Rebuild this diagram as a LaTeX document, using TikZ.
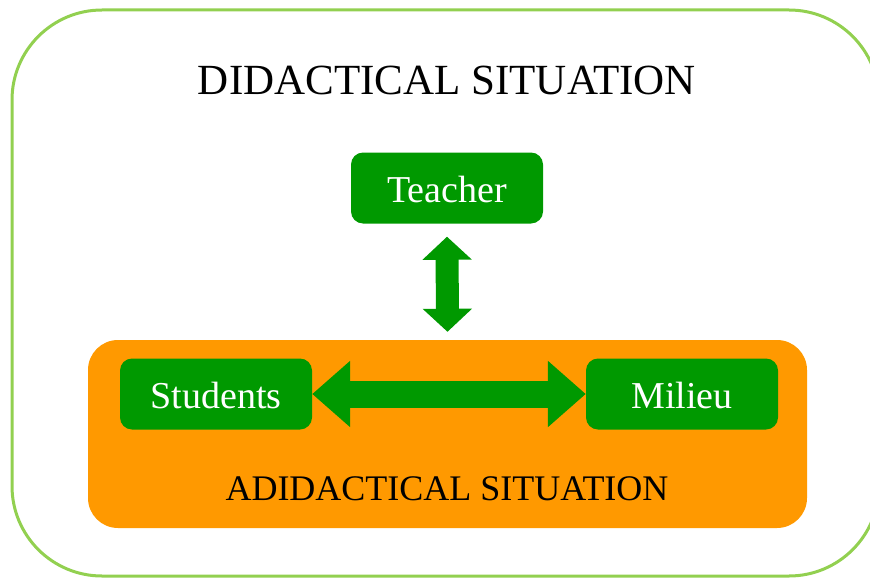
\documentclass[tikz,border=0pt]{standalone}
\usepackage{fontspec}
\setmainfont{Liberation Serif}
\usetikzlibrary{arrows.meta}
\definecolor{framegreen}{RGB}{146,208,80}
\definecolor{agentgreen}{RGB}{0,153,0}
\definecolor{milieuorange}{RGB}{255,153,0}
\begin{document}
\begin{tikzpicture}[x=1pt, y=-1pt,
    agent/.style={fill=agentgreen, rounded corners=12pt, inner sep=0pt,
        minimum width=192pt, minimum height=71pt,
        text height=28pt, text depth=0pt, text=white,
        font=\fontsize{38}{40}\selectfont}]
    \useasboundingbox (0,0) rectangle (870,578);

    % didactical situation (outer frame)
    \node[draw=framegreen, line width=3pt, rounded corners=90pt,
        minimum width=867pt, minimum height=566pt] (didactic) at (445.5,293) {};
    \node[anchor=base, font=\fontsize{43}{45}\selectfont] (didactictitle) at (447,95) {DIDACTICAL SITUATION};

    % adidactical situation
    \node[fill=milieuorange, rounded corners=30pt,
        minimum width=719pt, minimum height=188pt] (adidactic) at (447.5,434) {};
    \node[anchor=base, font=\fontsize{36}{38}\selectfont] (adidactictitle) at (447,500) {ADIDACTICAL SITUATION};

    % the three agents
    \node[agent] (teacher) at (447,188) {Teacher};
    \node[agent] (students) at (216,394) {Students};
    \node[agent] (milieu) at (682,394) {Milieu};

    % interactions
    \draw[agentgreen, line width=23pt,
        {Triangle[length=23pt, width=48pt]}-{Triangle[length=23pt, width=48pt]}]
        ([yshift=-13pt]teacher.south) -- ([yshift=8pt]adidactic.north);
    \draw[agentgreen, line width=27pt,
        {Triangle[length=38pt, width=64pt]}-{Triangle[length=38pt, width=64pt]}]
        (students.east) -- (milieu.west);
\end{tikzpicture}
\end{document}
